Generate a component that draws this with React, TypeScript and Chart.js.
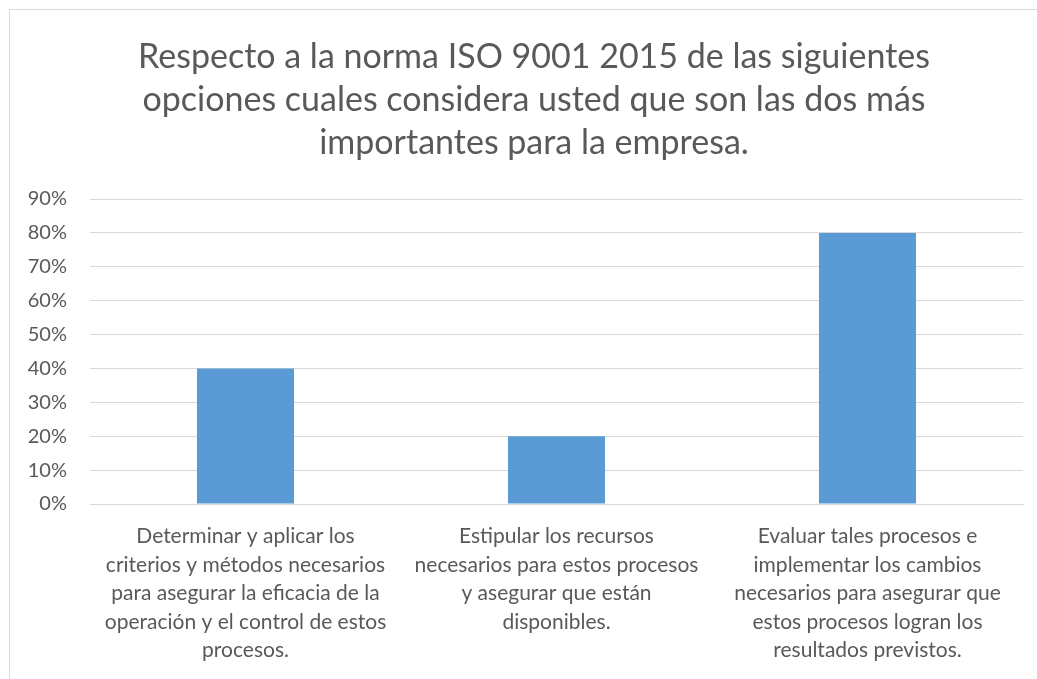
import React, { useEffect, useRef } from "react";
import { Chart, registerables } from "chart.js";

Chart.register(...registerables);

const titleLines = [
  "Respecto a la norma ISO 9001 2015 de las siguientes",
  "opciones cuales considera usted que son las dos más",
  "importantes para la empresa.",
];

const categories: string[][] = [
  ["Determinar y aplicar los", "criterios y métodos necesarios", "para asegurar la eficacia de la", "operación y el control de estos", "procesos."],
  ["Estipular los recursos", "necesarios para estos procesos", "y asegurar que están", "disponibles."],
  ["Evaluar tales procesos e", "implementar los cambios", "necesarios para asegurar que", "estos procesos logran los", "resultados previstos."],
];

const values = [0.4, 0.2, 0.8];

const yMin = 0;
const yMax = 0.9;
const yStep = 0.1;

const FONT = "Lato, 'Open Sans', sans-serif";
const TEXT = "#595959";

const titlePlugin = {
  id: "customTitle",
  afterDraw(chart: any) {
    const ctx = chart.ctx;
    ctx.save();
    ctx.fillStyle = TEXT;
    ctx.font = `normal 34px ${FONT}`;
    ctx.textAlign = "center";
    ctx.textBaseline = "middle";
    titleLines.forEach((line, i) => {
      ctx.fillText(line, 534, 57 + i * 43);
    });
    ctx.restore();
  },
};

export default function App() {
  const ref = useRef<HTMLCanvasElement | null>(null);

  useEffect(() => {
    if (!ref.current) return;
    const chart = new Chart(ref.current, {
      type: "bar",
      data: {
        labels: categories,
        datasets: [
          {
            data: values,
            backgroundColor: "#5B9BD5",
            borderWidth: 0,
            barPercentage: 0.312,
            categoryPercentage: 1,
          },
        ],
      },
      plugins: [titlePlugin],
      options: {
        animation: false,
        responsive: false,
        maintainAspectRatio: false,
        layout: { padding: { left: 0, right: 14, top: 199, bottom: 0 } },
        plugins: {
          legend: { display: false },
          tooltip: { enabled: false },
          title: { display: false },
        },
        scales: {
          x: {
            grid: { display: false, drawTicks: false },
            border: { display: true, color: "#D9D9D9", width: 1 },
            ticks: {
              color: TEXT,
              font: { family: FONT, size: 21, lineHeight: 28.6 / 21 },
              padding: 18,
              maxRotation: 0,
              minRotation: 0,
              autoSkip: false,
            },
            afterFit: (s: any) => {
              s.height = 679 - 504;
            },
          },
          y: {
            min: yMin,
            max: yMax,
            grid: { color: "#D9D9D9", drawTicks: false, lineWidth: 1 },
            border: { display: false },
            ticks: {
              stepSize: yStep,
              color: TEXT,
              font: { family: FONT, size: 20 },
              padding: 23,
              callback: (v: any) => Math.round(Number(v) * 100) + "%",
            },
            afterFit: (s: any) => {
              s.width = 90;
            },
          },
        },
      },
    });
    return () => chart.destroy();
  }, []);

  return (
    <div style={{ position: "fixed", left: 0, top: 0, width: 1037, height: 679, background: "#fff", overflow: "hidden" }}>
      <div
        style={{
          position: "absolute",
          left: 9,
          top: 9,
          width: 1100,
          height: 800,
          borderLeft: "1px solid #D9D9D9",
          borderTop: "1px solid #D9D9D9",
        }}
      />
      <canvas ref={ref} width={1037} height={679} style={{ position: "absolute", left: 0, top: 0, width: 1037, height: 679 }} />
    </div>
  );
}
